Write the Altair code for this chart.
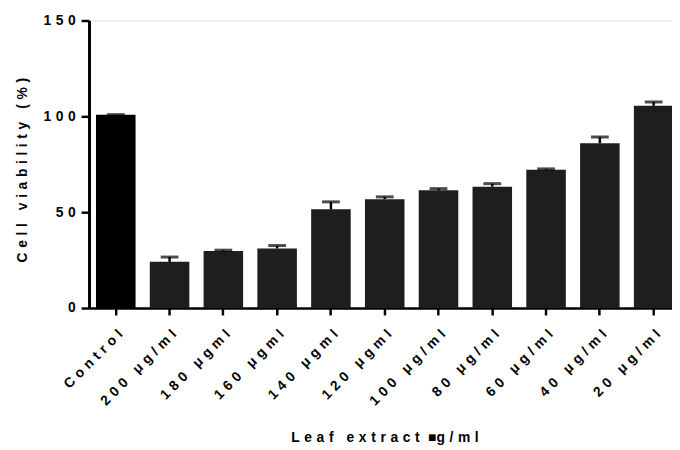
import altair as alt
import pandas as pd

categories = ["Control", "200 μg/ml", "180 μgml", "160 μgml", "140 μgml", "120 μgml",
              "100 μg/ml", "80 μg/ml", "60 μg/ml", "40 μg/ml", "20 μg/ml"]
viability = [100.9, 24.1, 29.7, 31.1, 51.5, 56.8, 61.4, 63.3, 72.1, 86.0, 105.5]
sd = [0.0, 2.5, 0.5, 1.5, 3.9, 1.2, 0.9, 1.6, 0.5, 3.2, 2.0]
groups = ["control"] + ["extract"] * 10
y_ticks = [0, 50, 100, 150]

SP = "\u2004"
def spaced(s):
    return SP.join(list(s))

df = pd.DataFrame({"cat": categories, "v": viability, "sd": sd, "grp": groups})
df["upper"] = df["v"] + df["sd"]

FONT = "Arial"

x_enc = alt.X(
    "cat:N",
    sort=categories,
    scale=alt.Scale(domain=categories, range=[0, 598.5], paddingInner=0.265, paddingOuter=0.13),
    axis=alt.Axis(
        title=spaced("Leaf extract ") + "■" + spaced("g/ml"),
        titleFont=FONT, titleFontSize=14, titleFontWeight="bold", titleColor="black",
        titleX=299, titleY=135, titleAlign="center", titleBaseline="alphabetic",
        labelExpr="join(split(datum.label, ''), '\u2004')",
        labelAngle=-45, labelAlign="right", labelBaseline="top", labelPadding=12,
        labelFont=FONT, labelFontSize=14, labelFontWeight="bold", labelColor="black",
        domainColor="black", domainWidth=2.5, tickColor="black", tickWidth=2.5, tickSize=7,
        grid=False,
    ),
)

y_enc = alt.Y(
    "v:Q",
    scale=alt.Scale(domain=[0, 150], nice=False, zero=True),
    axis=alt.Axis(
        values=y_ticks,
        title=spaced("Cell viability (%)"),
        titleFont=FONT, titleFontSize=14, titleFontWeight="bold", titleColor="black",
        titleX=-67, titleY=151, titleAngle=270, titleAlign="center", titleBaseline="middle",
        labelExpr="join(split(datum.label, ''), '\u2004')",
        labelFont=FONT, labelFontSize=14, labelFontWeight="bold", labelColor="black",
        labelPadding=6,
        domainColor="black", domainWidth=3, tickColor="black", tickWidth=2.5, tickSize=8,
        grid=False,
    ),
)

bars = alt.Chart(df).mark_bar().encode(
    x=x_enc,
    y=y_enc,
    color=alt.Color("grp:N", scale=alt.Scale(domain=["control", "extract"], range=["#000000", "#1e1e1e"]), legend=None),
)

stems = alt.Chart(df).mark_rule(color="black", strokeWidth=2.5).encode(
    x=alt.X("cat:N", sort=categories),
    y=alt.Y("v:Q"),
    y2="upper:Q",
)

caps = alt.Chart(df).mark_tick(color="black", thickness=3, size=18).encode(
    x=alt.X("cat:N", sort=categories),
    y=alt.Y("upper:Q"),
)

chart = alt.layer(bars, stems, caps).properties(
    width=590,
    height=291,
    autosize=alt.AutoSizeParams(type="none"),
    padding={"left": 82, "top": 10, "right": 0, "bottom": 140},
).configure_view(stroke=None).configure(background="white")

chart.save("out.html", embed_options={"renderer": "svg", "actions": False})
